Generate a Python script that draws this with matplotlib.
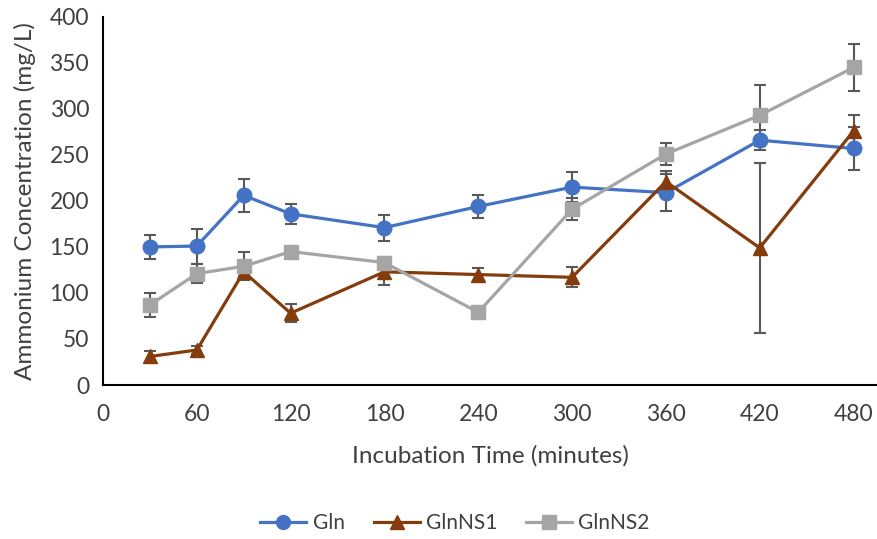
import matplotlib
matplotlib.use("Agg")
import matplotlib.pyplot as plt
from matplotlib.ticker import MultipleLocator
from matplotlib.lines import Line2D

plt.rcParams['font.family'] = ['Lato', 'DejaVu Sans']

time = [30, 60, 90, 120, 180, 240, 300, 360, 420, 480]
gln = [150, 151, 206, 186, 171, 194, 215, 209, 266, 257]
gln_err = [13, 19, 18, 11, 14, 12, 16, 20, 11, 23]
ns1 = [31, 38, 123, 78, 123, 120, 117, 221, 149, 276]
ns1_err = [6, 4, 5, 10, 14, 7, 11, 12, 92, 17]
ns2 = [87, 121, 129, 145, 133, 79, 191, 251, 293, 345]
ns2_err = [13, 10, 15, 4, 6, 3, 12, 12, 33, 26]
xticks = [0, 60, 120, 180, 240, 300, 360, 420, 480]

fig = plt.figure(figsize=(8.77, 5.39), dpi=100)
ax = fig.add_axes([0.1174, 0.2857, 0.8826, 0.683])

series = [
    ("Gln", gln, gln_err, "#4472C4", "o"),
    ("GlnNS1", ns1, ns1_err, "#843C0C", "^"),
    ("GlnNS2", ns2, ns2_err, "#A5A5A5", "s"),
]
handles = []
for name, vals, err, col, mk in series:
    ax.errorbar(time, vals, yerr=err, color=col, marker=mk, markersize=10.5,
                lw=2.3, ecolor="#595959", elinewidth=1.5, capsize=4, capthick=1.5,
                zorder=3)
    handles.append(Line2D([], [], color=col, marker=mk, markersize=10, lw=2.3, label=name))

ax.set_xlim(0, 495)
ax.set_ylim(0, 400)
ax.set_xticks(xticks)
ax.yaxis.set_major_locator(MultipleLocator(50))
for s in ["top", "right"]:
    ax.spines[s].set_visible(False)
ax.spines["left"].set_linewidth(1.5)
ax.spines["bottom"].set_linewidth(1.5)
ax.tick_params(length=0, labelsize=16.5, colors="#404040")
ax.tick_params(axis="x", pad=14)
ax.tick_params(axis="y", pad=10)
ax.set_xlabel("Incubation Time (minutes)", fontsize=17.5, color="#404040", labelpad=14)
ax.set_ylabel("Ammonium Concentration (mg/L)", fontsize=17.5, color="#404040", labelpad=10)

fig.legend(handles=handles, loc="center", bbox_to_anchor=(0.519, 0.03), ncol=3,
           frameon=False, fontsize=15, handlelength=2.2, handletextpad=0.3,
           columnspacing=1.4, labelcolor="#404040")

fig.savefig("out.png", dpi=100)
